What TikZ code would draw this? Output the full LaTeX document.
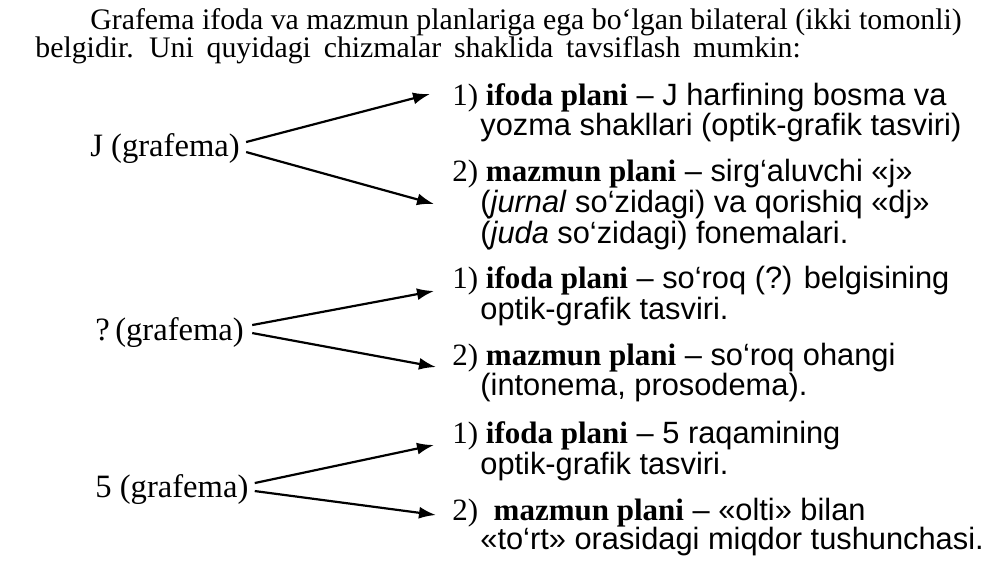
\documentclass[tikz,border=0pt]{standalone}
\usepackage{fontspec}
\setmainfont{Liberation Serif}
\setsansfont{Liberation Sans}
\usetikzlibrary{arrows.meta}

\newcommand{\planname}[2]{{\rmfamily\fontsize{15.5}{18}\selectfont #1)\ \textbf{#2}}}

\begin{document}
\begin{tikzpicture}[x=0.5pt,y=-0.5pt]
		\tikzstyle{intro}=[anchor=base west, inner sep=0pt, font=\fontsize{14.9}{17}\selectfont]
		\tikzstyle{grafema}=[anchor=base west, inner sep=0pt, font=\fontsize{16.3}{19}\selectfont]
		\tikzstyle{plan}=[anchor=base west, inner sep=0pt, font=\sffamily\fontsize{15.4}{18}\selectfont]
		\tikzstyle{connect}=[line width=1.1pt, -{Latex[length=8.5pt,width=6pt]}]
		\useasboundingbox[fill=white] (0,0) rectangle (1000,562);
		
		\node[intro] (t1) at (90,29) {Grafema ifoda va mazmun planlariga ega bo‘lgan bilateral (ikki tomonli)};
		\node[intro] (t2) at (35,57) {\spaceskip=6.4pt belgidir. Uni quyidagi chizmalar shaklida tavsiflash mumkin:};
		
		% J
		\node[grafema] (j) at (90,156) {J (grafema)};
		\node[plan] (j1a) at (452,105) {\planname{1}{ifoda plani} -- J harfining bosma va};
		\node[plan] (j1b) at (480,135) {yozma shakllari (optik-grafik tasviri)};
		\node[plan] (j2a) at (452,181) {\planname{2}{mazmun plani} -- sirg‘aluvchi «j»};
		\node[plan] (j2b) at (480,212) {(\textit{jurnal} so‘zidagi) va qorishiq «dj»};
		\node[plan] (j2c) at (480,243) {(\textit{juda} so‘zidagi) fonemalari.};
		
		% ?
		\node[grafema] (q) at (95,340) {?\,(grafema)};
		\node[plan] (q1a) at (452,288) {\planname{1}{ifoda plani} -- so‘roq (?) belgisining};
		\node[plan] (q1b) at (480,319) {optik-grafik tasviri.};
		\node[plan] (q2a) at (452,365) {\planname{2}{mazmun plani} -- so‘roq ohangi};
		\node[plan] (q2b) at (480,395) {(intonema, prosodema).};
		
		% 5
		\node[grafema] (five) at (95,497) {5 (grafema)};
		\node[plan] (f1a) at (452,443) {\planname{1}{ifoda plani} -- 5 raqamining};
		\node[plan] (f1b) at (480,474) {optik-grafik tasviri.};
		\node[plan] (f2a) at (452,520) {\planname{2}{\ mazmun plani} -- «olti» bilan};
		\node[plan] (f2b) at (480,549) {«to‘rt» orasidagi miqdor tushunchasi.};
		
		\coordinate (j1tip) at (430,94);
		\coordinate (j2tip) at (434,204);
		\coordinate (q1tip) at (434,291);
		\coordinate (q2tip) at (436,367);
		\coordinate (f1tip) at (434,445);
		\coordinate (f2tip) at (436,515);
		
		\path
		([xshift=3pt,yshift=3pt]j.east) edge [connect] (j1tip)
		([xshift=3pt,yshift=-2pt]j.east) edge [connect] (j2tip)
		([xshift=4pt,yshift=3.5pt]q.east) edge [connect] (q1tip)
		([xshift=4pt,yshift=-0.5pt]q.east) edge [connect] (q2tip)
		([xshift=3pt,yshift=3pt]five.east) edge [connect] (f1tip)
		([xshift=3pt,yshift=-1pt]five.east) edge [connect] (f2tip)
		;
		
\end{tikzpicture}
\end{document}
